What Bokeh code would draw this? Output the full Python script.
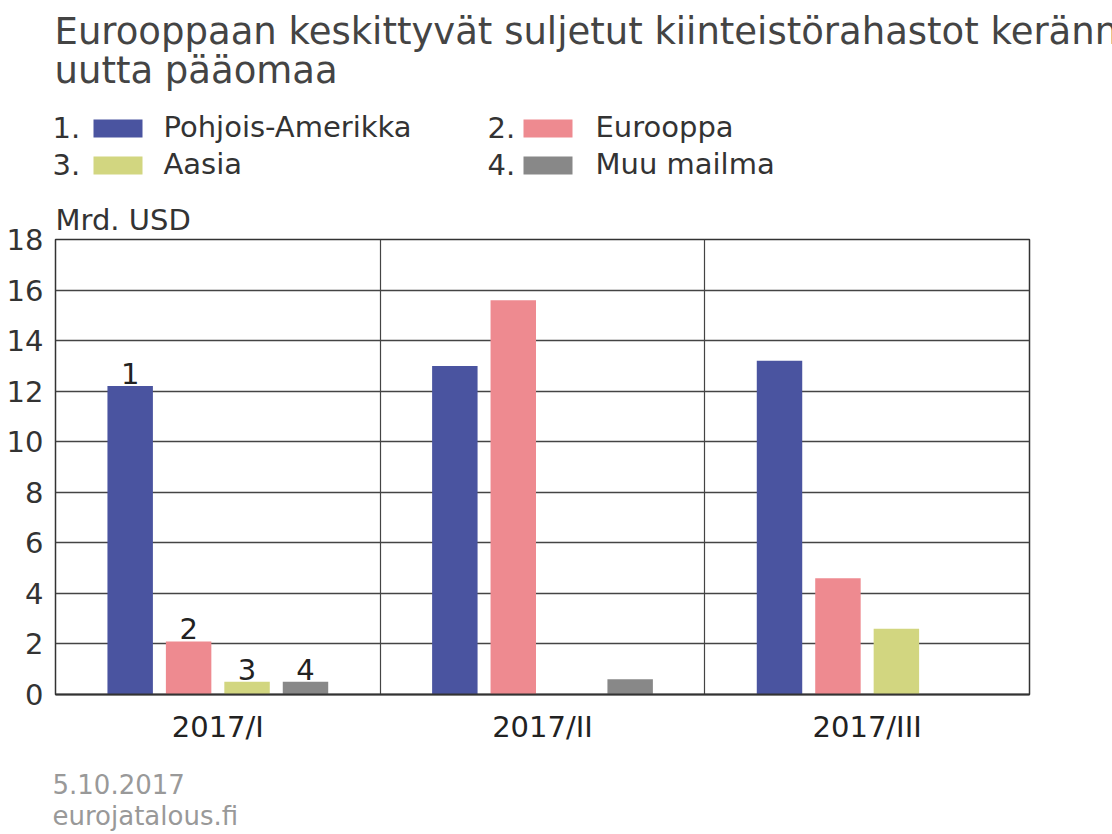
from bokeh.plotting import figure
from bokeh.models import ColumnDataSource, FixedTicker, Range1d, Title
from bokeh.core.properties import value
from bokeh.embed import file_html
from bokeh.resources import INLINE

# ---- data ----
categories = ["2017/I", "2017/II", "2017/III"]
series_names = ["Pohjois-Amerikka", "Eurooppa", "Aasia", "Muu mailma"]
series_numbers = ["1.", "2.", "3.", "4."]
pohjois_amerikka = [12.2, 13.0, 13.2]
eurooppa = [2.1, 15.6, 4.6]
aasia = [0.5, 0.0, 2.6]
muu_maailma = [0.5, 0.6, 0.0]
bar_tags = ["1", "2", "3", "4"]
y_ticks = [0, 2, 4, 6, 8, 10, 12, 14, 16, 18]

title_lines = ["Eurooppaan keskittyvät suljetut kiinteistörahastot keränneet",
               "uutta pääomaa"]
y_unit = "Mrd. USD"
footer_lines = ["5.10.2017", "eurojatalous.fi"]

colors = ["#4a54a0", "#ee8a90", "#d2d680", "#888888"]
offsets = [-0.27, -0.09, 0.09, 0.27]
bar_w = 0.14
FONT = "DejaVu Sans"
W = 1112

# page bands
HEAD_H = 198
MAIN_TOP, MAIN_BOT = 198, 760
FT, FB = 239, 694          # frame top / bottom (page px)
FL, FR = 55, 1029          # frame left / right (page px)
BASE_FIX = 0.355           # Bokeh text glyph baseline correction (em)


def blank_fig(h, y0):
    f = figure(width=W, height=h, x_range=Range1d(0, W), y_range=Range1d(y0 + h, y0),
               output_backend="svg", toolbar_location=None,
               x_axis_location=None, y_axis_location=None,
               min_border=0, min_border_left=0, min_border_right=0,
               min_border_top=0, min_border_bottom=0)
    f.grid.visible = False
    f.outline_line_color = None
    f.background_fill_color = "white"
    f.border_fill_color = "white"
    return f


def put_text(f, xs, ys, texts, size, color):
    fix = BASE_FIX * size
    src = ColumnDataSource(dict(x=xs, y=[y - fix for y in ys], t=texts))
    f.text(x="x", y="y", text="t", source=src, text_font=value(FONT),
           text_font_size=f"{size}px", text_color=color,
           text_baseline="alphabetic", text_align="left")


# ---- header ----
head = blank_fig(HEAD_H, 0)
put_text(head, [54, 54], [44, 83], title_lines, 37, "#444444")
num_x = [52, 487]
sw_x = [93, 523]
lab_x = [163, 595]
rows = [137, 174]
cidx = [j % 2 for j in range(4)]
ridx = [j // 2 for j in range(4)]
ly = [rows[r] for r in ridx]
put_text(head, [num_x[c] for c in cidx], ly, series_numbers, 29, "#333333")
put_text(head, [lab_x[c] for c in cidx], ly, series_names, 29, "#333333")
head.quad(left=[sw_x[c] for c in cidx], right=[sw_x[c] + 49 for c in cidx],
          top=[y - 18 for y in ly], bottom=ly,
          fill_color=colors, line_color=None)

# ---- main chart ----
p = figure(width=W, height=MAIN_BOT - MAIN_TOP, x_range=(0, 3), y_range=(0, 18),
           output_backend="svg", toolbar_location=None,
           min_border_left=FL, min_border_right=W - FR,
           min_border_top=FT - MAIN_TOP, min_border_bottom=MAIN_BOT - FB)
p.background_fill_color = "white"
p.border_fill_color = "white"
p.outline_line_color = "#333333"
p.outline_line_width = 1.5

unit_title = Title(text=y_unit, align="left", text_font=FONT, text_font_size="29px",
                   text_color="#333333", text_font_style="normal", standoff=5)
p.add_layout(unit_title, "above")

all_series = [pohjois_amerikka, eurooppa, aasia, muu_maailma]
for j, vals in enumerate(all_series):
    xs = [i + 0.5 + offsets[j] for i in range(len(categories))]
    src = ColumnDataSource(dict(x=xs, top=vals))
    p.vbar(x="x", top="top", width=bar_w, bottom=0, source=src,
           fill_color=colors[j], line_color=None)

tag_src = ColumnDataSource(dict(
    x=[0.5 + offsets[j] for j in range(4)],
    y=[s[0] for s in all_series],
    t=bar_tags))
p.text(x="x", y="y", text="t", source=tag_src, text_align="center",
       text_baseline="bottom", y_offset=-2, text_font=value(FONT),
       text_font_size="29px", text_color="#222222")

p.yaxis.ticker = FixedTicker(ticks=y_ticks)
p.yaxis.major_label_text_font = FONT
p.yaxis.major_label_text_font_size = "29px"
p.yaxis.major_label_text_color = "#333333"
p.yaxis.major_tick_line_color = None
p.yaxis.minor_tick_line_color = None
p.yaxis.axis_line_color = None
p.yaxis.major_label_standoff = 6

p.xaxis.ticker = FixedTicker(ticks=[i + 0.5 for i in range(len(categories))])
p.xaxis.major_label_overrides = {i + 0.5: c for i, c in enumerate(categories)}
p.xaxis.major_label_text_font = FONT
p.xaxis.major_label_text_font_size = "29px"
p.xaxis.major_label_text_color = "#222222"
p.xaxis.major_tick_line_color = None
p.xaxis.minor_tick_line_color = None
p.xaxis.axis_line_color = "#333333"
p.xaxis.axis_line_width = 2
p.xaxis.major_label_standoff = 9

p.ygrid.ticker = FixedTicker(ticks=y_ticks)
p.ygrid.grid_line_color = "#444444"
p.ygrid.grid_line_width = 1.5
p.xgrid.ticker = FixedTicker(ticks=[1, 2])
p.xgrid.grid_line_color = "#444444"
p.xgrid.grid_line_width = 1.2

# ---- footer ----
foot = blank_fig(834 - MAIN_BOT, MAIN_BOT)
put_text(foot, [52, 52], [793, 825], footer_lines, 26, "#999999")

open("out.html", "w").write(file_html([head, p, foot], INLINE))
